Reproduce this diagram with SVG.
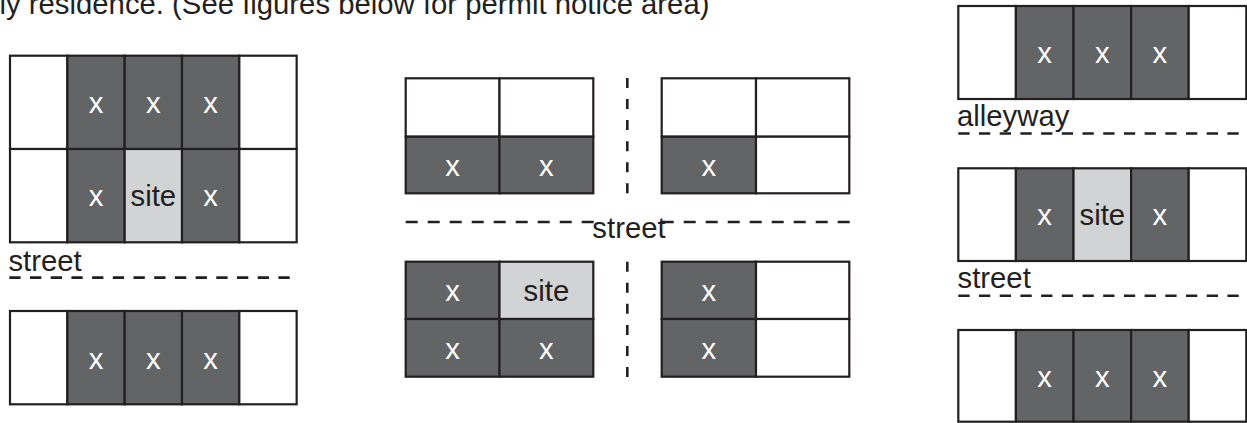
<svg xmlns="http://www.w3.org/2000/svg" width="1247" height="423" viewBox="0 0 1247 423">
<style>
.c rect{stroke:#231f20;stroke-width:2.2}
.w{fill:#ffffff}
.d{fill:#636466}
.s{fill:#d1d3d4}
text{font-family:"Liberation Sans",Arial,sans-serif;font-size:29.3px}
.x{fill:#ffffff;text-anchor:middle}
.st{fill:#231f20;text-anchor:middle}
.lbl{fill:#231f20}
.dh{stroke:#231f20;stroke-width:2.6;fill:none;stroke-dasharray:11.3 9.4}
.dm{stroke:#231f20;stroke-width:2.6;fill:none;stroke-dasharray:12 10}
.dv{stroke:#231f20;stroke-width:2.6;fill:none;stroke-dasharray:10 11.06}
</style>
<rect width="1247" height="423" fill="#ffffff"/>
<text class="lbl" x="-0.5" y="13.5">ly residence. (See figures below for permit notice area)</text>

<g id="fig1-top" class="c">
<rect class="w" x="10" y="55.7" width="57.33" height="93.3"/>
<rect class="d" x="67.33" y="55.7" width="57.33" height="93.3"/>
<rect class="d" x="124.67" y="55.7" width="57.33" height="93.3"/>
<rect class="d" x="182" y="55.7" width="57.33" height="93.3"/>
<rect class="w" x="239.33" y="55.7" width="57.33" height="93.3"/>
<rect class="w" x="10" y="149" width="57.33" height="93.3"/>
<rect class="d" x="67.33" y="149" width="57.33" height="93.3"/>
<rect class="s" x="124.67" y="149" width="57.33" height="93.3"/>
<rect class="d" x="182" y="149" width="57.33" height="93.3"/>
<rect class="w" x="239.33" y="149" width="57.33" height="93.3"/>
<text class="x" x="96" y="112.9">x</text>
<text class="x" x="153.3" y="112.9">x</text>
<text class="x" x="210.7" y="112.9">x</text>
<text class="x" x="96" y="206.3">x</text>
<text class="st" x="153.3" y="206.3">site</text>
<text class="x" x="210.7" y="206.3">x</text>
</g>
<g id="fig1-bottom" class="c">
<rect class="w" x="10" y="311" width="57.33" height="93.3"/>
<rect class="d" x="67.33" y="311" width="57.33" height="93.3"/>
<rect class="d" x="124.67" y="311" width="57.33" height="93.3"/>
<rect class="d" x="182" y="311" width="57.33" height="93.3"/>
<rect class="w" x="239.33" y="311" width="57.33" height="93.3"/>
<text class="x" x="96" y="368.8">x</text>
<text class="x" x="153.3" y="368.8">x</text>
<text class="x" x="210.7" y="368.8">x</text>
</g>
<text class="lbl" x="8.4" y="270.7">street</text>

<g id="fig2-top-left" class="c">
<rect class="w" x="405.7" y="78.3" width="93.8" height="58.4"/>
<rect class="w" x="499.5" y="78.3" width="93.8" height="58.4"/>
<rect class="d" x="405.7" y="136.7" width="93.8" height="56.6"/>
<rect class="d" x="499.5" y="136.7" width="93.8" height="56.6"/>
<text class="x" x="452.6" y="175.5">x</text>
<text class="x" x="546.4" y="175.5">x</text>
</g>
<g id="fig2-top-right" class="c">
<rect class="w" x="661.7" y="78.3" width="94.3" height="58.4"/>
<rect class="w" x="756" y="78.3" width="93.3" height="58.4"/>
<rect class="d" x="661.7" y="136.7" width="94.3" height="56.6"/>
<rect class="w" x="756" y="136.7" width="93.3" height="56.6"/>
<text class="x" x="708.9" y="175.5">x</text>
</g>
<g id="fig2-bottom-left" class="c">
<rect class="d" x="405.7" y="261.7" width="93.8" height="57.3"/>
<rect class="s" x="499.5" y="261.7" width="93.8" height="57.3"/>
<rect class="d" x="405.7" y="319" width="93.8" height="57.7"/>
<rect class="d" x="499.5" y="319" width="93.8" height="57.7"/>
<text class="x" x="452.6" y="301.3">x</text>
<text class="st" x="546.4" y="301.3">site</text>
<text class="x" x="452.6" y="358.6">x</text>
<text class="x" x="546.4" y="358.6">x</text>
</g>
<g id="fig2-bottom-right" class="c">
<rect class="d" x="661.7" y="261.7" width="94.3" height="57.3"/>
<rect class="w" x="756" y="261.7" width="93.3" height="57.3"/>
<rect class="d" x="661.7" y="319" width="94.3" height="57.7"/>
<rect class="w" x="756" y="319" width="93.3" height="57.7"/>
<text class="x" x="708.9" y="301.3">x</text>
<text class="x" x="708.9" y="358.6">x</text>
</g>
<text class="lbl" x="629" y="238" text-anchor="middle">street</text>

<g id="fig3-top" class="c">
<rect class="w" x="958.3" y="6" width="57.6" height="93"/>
<rect class="d" x="1015.9" y="6" width="57.6" height="93"/>
<rect class="d" x="1073.5" y="6" width="57.6" height="93"/>
<rect class="d" x="1131.1" y="6" width="57.6" height="93"/>
<rect class="w" x="1188.7" y="6" width="57.6" height="93"/>
<text class="x" x="1044.7" y="63.3">x</text>
<text class="x" x="1102.3" y="63.3">x</text>
<text class="x" x="1159.9" y="63.3">x</text>
</g>
<text class="lbl" x="957" y="126">alleyway</text>
<g id="fig3-middle" class="c">
<rect class="w" x="958.3" y="168.3" width="57.6" height="92.7"/>
<rect class="d" x="1015.9" y="168.3" width="57.6" height="92.7"/>
<rect class="s" x="1073.5" y="168.3" width="57.6" height="92.7"/>
<rect class="d" x="1131.1" y="168.3" width="57.6" height="92.7"/>
<rect class="w" x="1188.7" y="168.3" width="57.6" height="92.7"/>
<text class="x" x="1044.7" y="225.3">x</text>
<text class="st" x="1102.3" y="225.3">site</text>
<text class="x" x="1159.9" y="225.3">x</text>
</g>
<text class="lbl" x="957.5" y="288.3">street</text>
<g id="fig3-bottom" class="c">
<rect class="w" x="958.3" y="330" width="57.6" height="91.7"/>
<rect class="d" x="1015.9" y="330" width="57.6" height="91.7"/>
<rect class="d" x="1073.5" y="330" width="57.6" height="91.7"/>
<rect class="d" x="1131.1" y="330" width="57.6" height="91.7"/>
<rect class="w" x="1188.7" y="330" width="57.6" height="91.7"/>
<text class="x" x="1044.7" y="387.4">x</text>
<text class="x" x="1102.3" y="387.4">x</text>
<text class="x" x="1159.9" y="387.4">x</text>
</g>

<g id="connectors">
<line class="dh" x1="9.3" y1="277.6" x2="298" y2="277.6"/>
<line class="dm" x1="405.7" y1="222" x2="594" y2="222"/>
<line class="dm" x1="661.7" y1="222" x2="850" y2="222"/>
<line class="dv" x1="627.3" y1="78" x2="627.3" y2="193.3"/>
<line class="dv" x1="627.3" y1="261.7" x2="627.3" y2="378.3"/>
<line class="dh" x1="958.3" y1="133.5" x2="1247" y2="133.5"/>
<line class="dh" x1="958.3" y1="295.7" x2="1247" y2="295.7"/>
</g>
</svg>
